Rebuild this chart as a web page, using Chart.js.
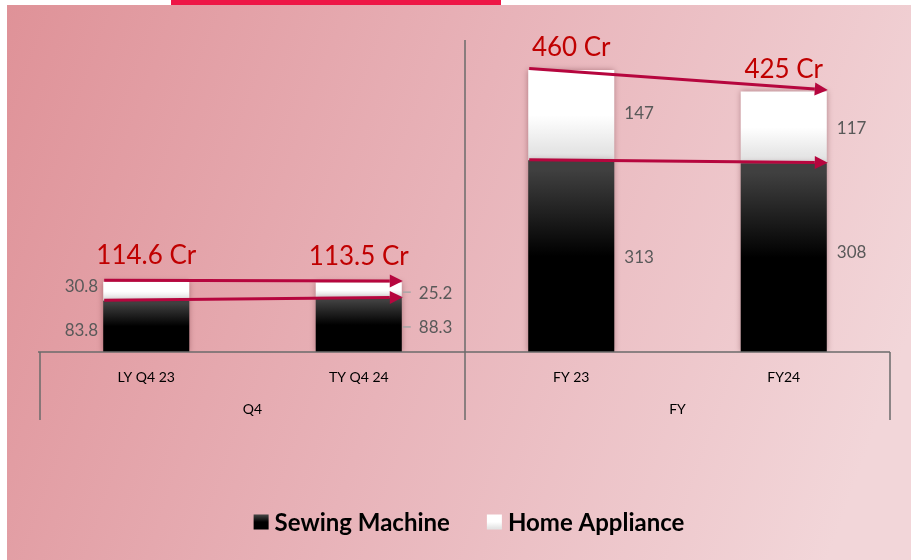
<!DOCTYPE html>
<html><head><meta charset="utf-8">
<script src="https://cdn.jsdelivr.net/npm/chart.js@4/dist/chart.umd.min.js"></script>
<style>html,body{margin:0;padding:0;background:#fff;overflow:hidden}canvas{display:block}</style>
</head><body>
<canvas id="c" width="911" height="560"></canvas>
<script>
// ---- data ----
const categories = ['LY Q4 23', 'TY Q4 24', 'FY 23', 'FY24'];
const groups = ['Q4', 'FY'];
const groupSpans = [[0, 1], [2, 3]];
const sewingMachine = [83.8, 88.3, 313, 308];
const homeAppliance = [30.8, 25.2, 147, 117];
const totalLabels = ['114.6 Cr', '113.5 Cr', '460 Cr', '425 Cr'];
const seriesNames = ['Sewing Machine', 'Home Appliance'];
const arrowPairs = [[0, 1], [2, 3]];

// ---- label placement (styling, not data) ----
const labelSide = ['left', 'right', 'right', 'right'];
const leaderLine = [false, true, false, false];
const sewingNudge = [4, 3, 1, -5];
const applianceNudge = [-5, 3, -2, 1];
const totalGap = [26, 26, 22, 22];

const FONT = 'Lato, "Open Sans", sans-serif';
const ARROW = '#b6063e';

function sewingGradient(ctx, yBottom, yTop) {
  const g = ctx.createLinearGradient(0, yBottom, 0, yTop);
  g.addColorStop(0, '#000000');
  g.addColorStop(0.5, '#000000');
  g.addColorStop(0.95, '#404040');
  g.addColorStop(1, '#404040');
  return g;
}
function applianceGradient(ctx, yBottom, yTop) {
  const g = ctx.createLinearGradient(0, yBottom, 0, yTop);
  g.addColorStop(0, '#e3e3e3');
  g.addColorStop(0.12, '#e6e6e6');
  g.addColorStop(0.5, '#ffffff');
  g.addColorStop(1, '#ffffff');
  return g;
}

function barFill(kind) {
  return (c) => {
    const chart = c.chart;
    const y = chart.scales.y;
    if (!y || !chart.chartArea) return kind === 0 ? '#000' : '#fff';
    const i = c.dataIndex;
    const s = sewingMachine[i];
    if (kind === 0) return sewingGradient(chart.ctx, y.getPixelForValue(0), y.getPixelForValue(s));
    return applianceGradient(chart.ctx, y.getPixelForValue(s), y.getPixelForValue(s + homeAppliance[i]));
  };
}

const decor = {
  id: 'decor',
  beforeDraw(chart) {
    const ctx = chart.ctx;
    ctx.save();
    ctx.fillStyle = '#ffffff';
    ctx.fillRect(0, 0, 911, 560);
    const g = ctx.createLinearGradient(7, 5, 911, 330);
    g.addColorStop(0, '#df9298');
    g.addColorStop(0.5, '#e8b3b9');
    g.addColorStop(1, '#f2d6d9');
    ctx.fillStyle = g;
    ctx.fillRect(7, 5, 904, 555);
    ctx.fillStyle = '#ee1646';
    ctx.fillRect(171, 0, 330, 5);
    ctx.restore();
  },
  beforeDatasetsDraw(chart) {
    const ctx = chart.ctx;
    ctx.save();
    ctx.shadowColor = 'rgba(60,0,10,0.35)';
    ctx.shadowBlur = 6;
    ctx.shadowOffsetX = 0;
    ctx.shadowOffsetY = 0;
  },
  afterDatasetsDraw(chart) {
    chart.ctx.restore();
  },
  afterDraw(chart) {
    const ctx = chart.ctx;
    const x = chart.scales.x, y = chart.scales.y;
    const area = chart.chartArea;
    const base = y.getPixelForValue(0);
    const m0 = chart.getDatasetMeta(0), m1 = chart.getDatasetMeta(1);

    // axis + group separators
    ctx.save();
    ctx.strokeStyle = '#6b6b6b';
    ctx.lineWidth = 1.5;
    ctx.beginPath();
    ctx.moveTo(area.left - 2, base); ctx.lineTo(area.right, base);
    ctx.moveTo(area.left, base); ctx.lineTo(area.left, base + 68);
    ctx.moveTo(area.right, base); ctx.lineTo(area.right, base + 68);
    const mid = (x.getPixelForValue(1) + x.getPixelForValue(2)) / 2;
    ctx.moveTo(mid, 40); ctx.lineTo(mid, base + 68);
    ctx.stroke();

    // group labels
    ctx.fillStyle = '#000';
    ctx.font = '14px ' + FONT;
    ctx.textAlign = 'center';
    ctx.textBaseline = 'middle';
    groups.forEach((gname, gi) => {
      const [a, b] = groupSpans[gi];
      const cx = (x.getPixelForValue(a) + x.getPixelForValue(b)) / 2;
      ctx.fillText(gname, cx, base + 57);
    });

    // value labels
    ctx.font = '17px ' + FONT;
    ctx.fillStyle = '#595959';
    categories.forEach((c, i) => {
      const b0 = m0.data[i];
      const half = b0.width / 2;
      const ySew = (y.getPixelForValue(0) + y.getPixelForValue(sewingMachine[i])) / 2 + sewingNudge[i];
      const yApp = (y.getPixelForValue(sewingMachine[i]) + y.getPixelForValue(sewingMachine[i] + homeAppliance[i])) / 2 + applianceNudge[i];
      const labs = [[String(sewingMachine[i]), ySew], [String(homeAppliance[i]), yApp]];
      labs.forEach(([t, yy]) => {
        if (labelSide[i] === 'left') {
          ctx.textAlign = 'right';
          ctx.fillText(t, b0.x - half - 5, yy);
        } else if (leaderLine[i]) {
          ctx.strokeStyle = '#a6a6a6';
          ctx.lineWidth = 1.5;
          ctx.beginPath();
          ctx.moveTo(b0.x + half + 1, yy - 1); ctx.lineTo(b0.x + half + 9, yy - 1);
          ctx.stroke();
          ctx.textAlign = 'left';
          ctx.fillText(t, b0.x + half + 17, yy);
        } else {
          ctx.textAlign = 'left';
          ctx.fillText(t, b0.x + half + 10, yy);
        }
      });
    });

    // total labels
    ctx.font = '26px ' + FONT;
    ctx.fillStyle = '#c00000';
    ctx.textAlign = 'center';
    categories.forEach((c, i) => {
      const top = y.getPixelForValue(sewingMachine[i] + homeAppliance[i]);
      ctx.fillText(totalLabels[i], m0.data[i].x, top - totalGap[i]);
    });

    // arrows
    function arrow(x1, y1, x2, y2) {
      const ang = Math.atan2(y2 - y1, x2 - x1);
      const hl = 13, hw = 6.5;
      const bx = x2 - hl * Math.cos(ang), by = y2 - hl * Math.sin(ang);
      ctx.strokeStyle = ARROW; ctx.fillStyle = ARROW;
      ctx.lineWidth = 3;
      ctx.beginPath(); ctx.moveTo(x1, y1); ctx.lineTo(bx, by); ctx.stroke();
      ctx.beginPath();
      ctx.moveTo(x2, y2);
      ctx.lineTo(bx + hw * Math.sin(ang), by - hw * Math.cos(ang));
      ctx.lineTo(bx - hw * Math.sin(ang), by + hw * Math.cos(ang));
      ctx.closePath(); ctx.fill();
    }
    arrowPairs.forEach(([a, b]) => {
      const ba = m0.data[a], bb = m0.data[b];
      const x1 = ba.x - ba.width / 2 + 1, x2 = bb.x + bb.width / 2 + 1;
      arrow(x1, y.getPixelForValue(sewingMachine[a] + homeAppliance[a]) - 1.5,
            x2, y.getPixelForValue(sewingMachine[b] + homeAppliance[b]) - 1.5);
      arrow(x1, y.getPixelForValue(sewingMachine[a]) - 0.5,
            x2, y.getPixelForValue(sewingMachine[b]) - 0.5);
    });

    // legend
    ctx.font = 'bold 24px ' + FONT;
    ctx.textAlign = 'left';
    ctx.textBaseline = 'middle';
    const box = 15, gapBT = 6, gapItems = 37;
    const w0 = ctx.measureText(seriesNames[0]).width;
    const w1 = ctx.measureText(seriesNames[1]).width;
    const total = box + gapBT + w0 + gapItems + box + gapBT + w1;
    let lx = 469 - total / 2;
    const ly = 522;
    [0, 1].forEach(k => {
      ctx.save();
      ctx.fillStyle = k === 0 ? sewingGradient(ctx, ly + box / 2, ly - box / 2) : applianceGradient(ctx, ly + box / 2, ly - box / 2);
      ctx.fillRect(lx, ly - box / 2, box, box);
      ctx.restore();
      lx += box + gapBT;
      ctx.fillStyle = '#000';
      ctx.fillText(seriesNames[k], lx, ly + 1);
      lx += (k === 0 ? w0 : w1) + gapItems;
    });
    ctx.restore();
  }
};

new Chart(document.getElementById('c'), {
  type: 'bar',
  data: {
    labels: categories,
    datasets: [
      { label: seriesNames[0], data: sewingMachine, backgroundColor: barFill(0), borderWidth: 0, barPercentage: 0.405, categoryPercentage: 1 },
      { label: seriesNames[1], data: homeAppliance, backgroundColor: barFill(1), borderWidth: 0, barPercentage: 0.405, categoryPercentage: 1 }
    ]
  },
  options: {
    responsive: false,
    animation: false,
    devicePixelRatio: 1,
    layout: { padding: { left: 40, right: 21, top: 45.5, bottom: 0 } },
    plugins: { legend: { display: false }, tooltip: { enabled: false } },
    scales: {
      x: {
        stacked: true,
        grid: { display: false, drawTicks: false },
        border: { display: false },
        ticks: { color: '#000', font: { family: FONT, size: 14 }, padding: 17, maxRotation: 0, autoSkip: false },
        afterFit(s) { s.height = 208; }
      },
      y: { stacked: true, display: false, min: 0, max: 500 }
    }
  },
  plugins: [decor]
});
</script>
</body></html>
